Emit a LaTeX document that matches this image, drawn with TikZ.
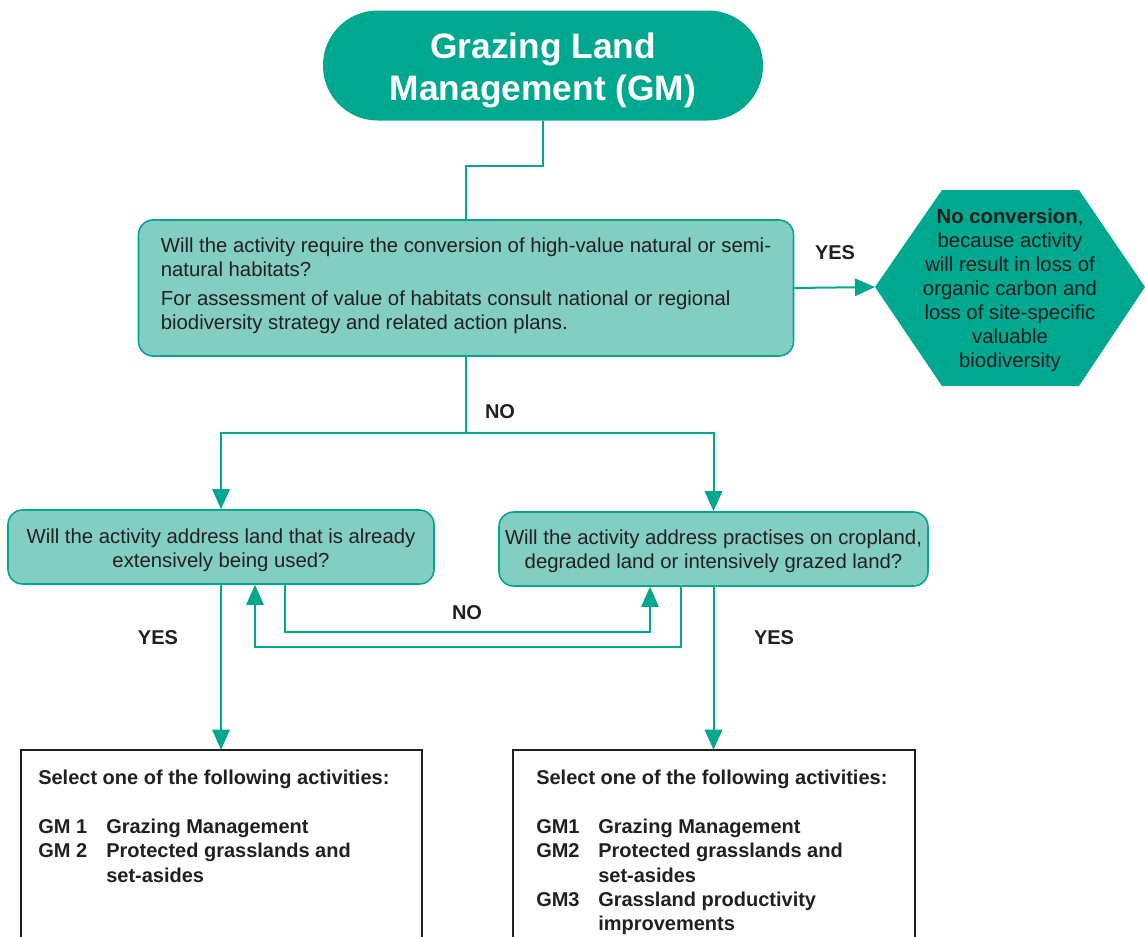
\documentclass[tikz,border=0pt]{standalone}
\usepackage{fontspec}
\setmainfont{Liberation Sans}
\usetikzlibrary{arrows.meta}
\definecolor{gmteal}{RGB}{0,168,143}
\definecolor{gmlight}{RGB}{130,206,195}
\definecolor{gmtext}{RGB}{35,31,32}

\begin{document}
\begin{tikzpicture}[x=0.75pt,y=-0.75pt,
  every node/.style={font=\fontsize{15.25}{18}\selectfont, text=gmtext, inner sep=0pt},
  flow/.style={draw=gmteal, line width=1.5pt},
  arrow/.style={flow, -{Triangle[length=15pt,width=13pt]}},
  question/.style={draw=gmteal, line width=1.2pt, fill=gmlight, rounded corners=11pt},
  answer/.style={font=\fontsize{15}{18}\selectfont\bfseries},
  listbox/.style={draw=none},
  listtext/.style={anchor=north west, align=left, font=\fontsize{15}{18.2}\selectfont\bfseries},
]
\useasboundingbox (0,0) rectangle (1145,936);

% title
\node[fill=gmteal, rounded corners=41pt, minimum width=330pt, minimum height=82.5pt,
      text=white, align=center, font=\fontsize{26.5}{31.5}\selectfont\bfseries]
  (title) at (543,65.5) {\rule{0pt}{26pt}Grazing Land\\Management (GM)};

% first question
\node[question, minimum width=491.25pt, minimum height=102pt, align=left]
  (q1) at (466,288)
  {Will the activity require the conversion of high-value natural or semi-\\
   natural habitats?\\[4pt]
   For assessment of value of habitats consult national or regional\\
   biodiversity strategy and related action plans.\rule[-7pt]{0pt}{0pt}};

% outcome hexagon
\coordinate (hexW) at (875,287);
\fill[gmteal] (hexW) -- (942,190) -- (1079,190) -- (1145,287) -- (1079,386) -- (942,386) -- cycle;
\node[align=center] (noconv) at (1010,290)
  {\textbf{No conversion},\\because activity\\will result in loss of\\organic carbon and\\loss of site-specific\\valuable\\biodiversity};

% second level questions
\node[question, minimum width=319.5pt, minimum height=55.5pt, align=center]
  (q2) at (221,547)
  {\rule{0pt}{16pt}Will the activity address land that is already\\extensively being used?};
\node[question, minimum width=321.75pt, minimum height=55.5pt, align=center]
  (q3) at (713.5,549)
  {\rule{0pt}{14pt}Will the activity address practises on cropland,\\degraded land or intensively grazed land?};

% activity lists (boxes run off the bottom edge)
\node[listbox, minimum width=300.75pt, minimum height=141pt] (b1) at (221.5,844) {};
\node[listbox, minimum width=301.5pt, minimum height=141pt] (b2) at (714,844) {};
\draw[line width=1.2pt, draw=gmtext] (b1.south west) |- (b1.north east) -- (b1.south east);
\draw[line width=1.2pt, draw=gmtext] (b2.south west) |- (b2.north east) -- (b2.south east);

\node[listtext] (b1text) at (38,770)
  {Select one of the following activities:\\[18.5pt]
   \makebox[51pt][l]{GM 1}Grazing Management\\
   \makebox[51pt][l]{GM 2}Protected grasslands and\\
   \hspace*{51pt}set-asides};
\node[listtext] (b2text) at (536,770)
  {Select one of the following activities:\\[18.5pt]
   \makebox[46.5pt][l]{GM1}Grazing Management\\
   \makebox[46.5pt][l]{GM2}Protected grasslands and\\
   \hspace*{46.5pt}set-asides\\
   \makebox[46.5pt][l]{GM3}Grassland productivity\\
   \hspace*{46.5pt}improvements};

% connectors
\coordinate (step1) at (466,166);
\draw[flow] (title.south) |- (step1) -- (step1 |- q1.north);

\draw[arrow] (q1.east) -- (hexW);
\node[answer] (yes1) at (835,253) {YES};

\coordinate (split) at (466,433);
\draw[flow] (q1.south) -- (split);
\draw[arrow] (split) -| (q2.north);
\draw[arrow] (split) -| (q3.north);
\node[answer] (no1) at (500,412) {NO};

\coordinate (loopA) at (285,632);
\coordinate (loopAend) at (650,632);
\draw[arrow] (loopA |- q2.south) -- (loopA) -- (loopAend) -- (loopAend |- q3.south);
\node[answer] (no2) at (467,613) {NO};

\coordinate (loopB) at (681,647);
\coordinate (loopBend) at (255,647);
\draw[arrow] (loopB |- q3.south) -- (loopB) -- (loopBend) -- (loopBend |- q2.south);

\draw[arrow] (q2.south) -- (q2.south |- b1.north);
\node[answer] (yes2) at (158,638) {YES};
\draw[arrow] (q3.south) -- (q3.south |- b2.north);
\node[answer] (yes3) at (774,638) {YES};
\end{tikzpicture}
\end{document}
